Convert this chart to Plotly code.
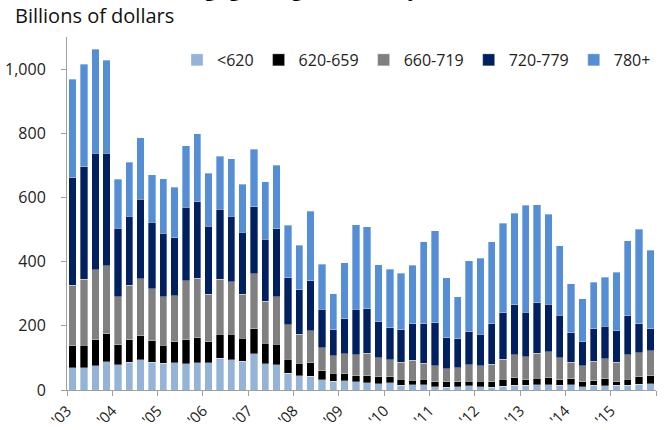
import plotly.graph_objects as go

year_labels = ["'03", "'04", "'05", "'06", "'07", "'08", "'09", "'10", "'11", "'12", "'13", "'14", "'15"]
series_names = ["<620", "620-659", "660-719", "720-779", "780+"]

# Quarterly originations, billions of dollars, 2003Q1 - 2015Q4
lt620 = [70, 70, 76, 88, 78, 86, 95, 86, 83, 85, 82, 85, 85, 99, 94, 90, 113, 82, 79, 52,
         44, 43, 32, 28, 29, 25, 23, 20, 22, 15, 16, 17, 10, 9, 10, 14, 10, 8, 12, 15,
         15, 17, 16, 15, 16, 10, 15, 14, 15, 15, 18, 20]
s620_659 = [68, 70, 80, 87, 63, 70, 74, 68, 56, 66, 74, 78, 66, 74, 79, 71, 78, 64, 63, 44,
            39, 42, 28, 24, 22, 20, 21, 21, 19, 19, 15, 17, 16, 16, 16, 14, 18, 18, 22, 23,
            17, 20, 22, 17, 19, 15, 14, 21, 11, 19, 24, 24]
s660_719 = [189, 205, 218, 212, 150, 170, 177, 161, 151, 142, 185, 185, 147, 172, 165, 138, 171, 131, 148, 107,
            90, 99, 72, 54, 62, 65, 71, 59, 54, 53, 62, 49, 49, 42, 43, 50, 47, 54, 62, 72,
            71, 78, 81, 68, 52, 50, 61, 63, 61, 76, 74, 78]
s720_779 = [335, 351, 363, 350, 213, 216, 248, 208, 198, 182, 229, 239, 212, 219, 203, 192, 209, 192, 212, 147,
            140, 157, 119, 82, 109, 141, 138, 112, 99, 101, 114, 123, 135, 96, 91, 103, 99, 126, 144, 155,
            139, 157, 149, 133, 91, 75, 101, 100, 98, 122, 90, 69]
s780p = [307, 319, 325, 291, 152, 168, 192, 147, 170, 157, 191, 212, 165, 164, 179, 150, 180, 180, 199, 164,
         138, 216, 141, 112, 174, 264, 256, 179, 183, 176, 181, 256, 286, 187, 131, 222, 236, 256, 280, 286,
         334, 306, 280, 217, 153, 135, 145, 154, 182, 233, 295, 245]

series_values = [lt620, s620_659, s660_719, s720_779, s780p]
colors = ["#95B3D7", "#000000", "#808080", "#002060", "#558ED5"]

n = len(lt620)
xs = list(range(n))

fig = go.Figure()
for name, vals, col in zip(series_names, series_values, colors):
    fig.add_trace(go.Bar(
        x=xs, y=vals, name=name,
        marker=dict(color=col, line=dict(color="rgba(255,255,255,0.55)", width=0.6)),
    ))

tickvals = [i * 4 - 0.5 for i in range(len(year_labels))] + [n - 0.5]
ticktext = year_labels + [""]

font_family = "Open Sans, Noto Sans, sans-serif"

fig.update_layout(
    barmode="stack",
    bargap=0.35,
    width=664, height=430,
    margin=dict(l=67, r=8, t=37, b=40),
    paper_bgcolor="white", plot_bgcolor="white",
    font=dict(family=font_family, size=15, color="#222222"),
    showlegend=True,
    legend=dict(orientation="h", x=1.0, xanchor="right", y=0.935, yanchor="middle",
                font=dict(size=16, color="#222222"), itemwidth=30, traceorder="normal",
                bgcolor="rgba(0,0,0,0)", tracegroupgap=0),
    xaxis=dict(range=[-0.5, n - 0.5], tickmode="array", tickvals=tickvals, ticktext=ticktext,
               tickangle=-45, ticks="outside", ticklen=5, tickcolor="#A0A0A0", automargin=False,
               showline=True, linecolor="#A0A0A0", linewidth=1, showgrid=False, zeroline=False,
               tickfont=dict(size=15, color="#222222")),
    yaxis=dict(range=[0, 1100], tickvals=[0, 200, 400, 600, 800, 1000],
               ticktext=["0", "200", "400", "600", "800", "1,000"], automargin=False,
               ticks="outside", ticklen=5, tickcolor="#A0A0A0", ticklabelstandoff=12,
               showline=True, linecolor="#A0A0A0", linewidth=1, showgrid=False, zeroline=False,
               tickfont=dict(size=16, color="#222222")),
    annotations=[
        dict(text="Billions of dollars", xref="paper", yref="paper", x=-0.092, y=1.0165,
             xanchor="left", yanchor="bottom", showarrow=False,
             font=dict(size=20, color="#111111", family=font_family)),
        dict(text="<b>Mortgage Originations by Credit Score</b>", xref="paper", yref="paper",
             x=0.143, y=1.094, xanchor="left", yanchor="bottom", showarrow=False,
             font=dict(size=21, color="#000000", family=font_family)),
    ],
)

fig.write_html("out.html", config={"displayModeBar": False},
               post_script="document.body.style.margin='0';")
